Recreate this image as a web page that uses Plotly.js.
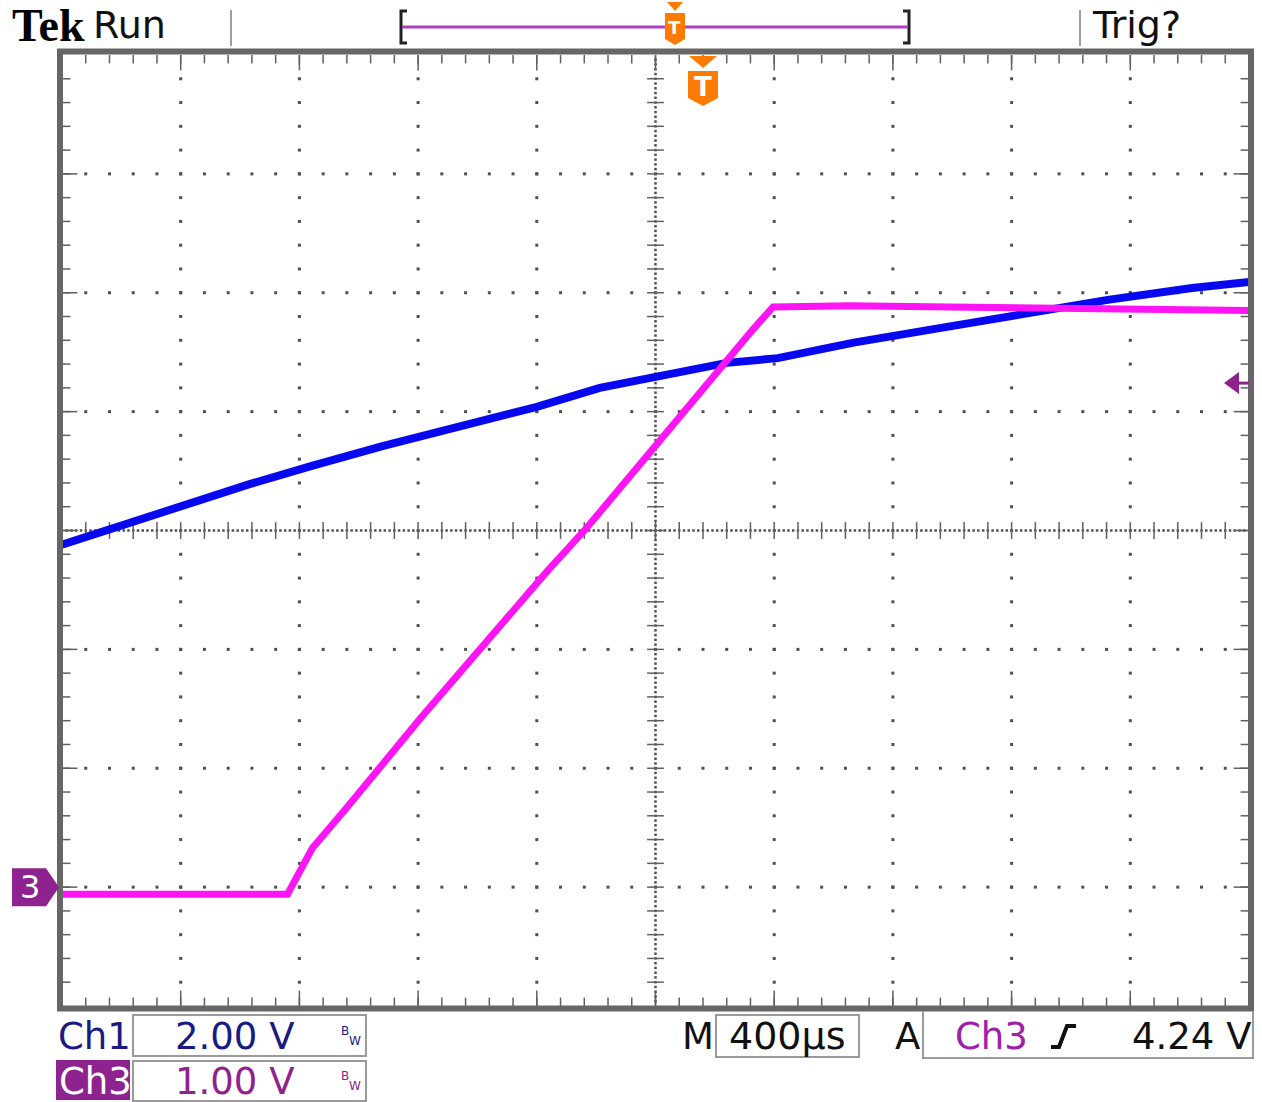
<!DOCTYPE html>
<html><head><meta charset="utf-8">
<script src="https://cdn.plot.ly/plotly-3.0.1.min.js"></script>
<style>body{margin:0;background:#fff}#chart{width:1262px;height:1102px}</style>
</head><body><div id="chart"></div>
<script>
// Horizontal: divisions (400 µs/div), vertical: divisions from screen centre
const ch1X = [0.00, 0.46, 1.02, 1.58, 2.09, 2.70, 3.41, 4.00, 4.53, 5.00, 5.60, 6.03, 6.67, 7.38, 8.10, 8.81, 9.52, 10.0];
const ch1Y = [-0.12, 0.03, 0.22, 0.39, 0.54, 0.71, 0.89, 1.04, 1.20, 1.29, 1.41, 1.45, 1.58, 1.70, 1.82, 1.94, 2.04, 2.09];
const ch3X = [0.00, 1.90, 2.11, 2.40, 3.02, 3.58, 4.09, 4.41, 5.01, 5.35, 5.57, 5.82, 5.99, 6.64, 7.48, 8.32, 9.17, 10.0];
const ch3Y = [-3.06, -3.06, -2.67, -2.33, -1.58, -0.93, -0.34, 0.01, 0.73, 1.13, 1.40, 1.69, 1.88, 1.89, 1.88, 1.87, 1.86, 1.85];
const ch3Ground = -3;          // divisions
const ch3VoltsPerDiv = 1.00;
const trigLevelV = 4.24;
const chanLabels = ['Ch1', 'Ch3'];
const chanScales = ['2.00 V', '1.00 V'];
const timebase = '400µs';
const trigSource = 'Ch3';
const trigText = '4.24 V';

const W = 1262, H = 1102, L = 62, R = 1249, T = 55, B = 1006;
const px = x => (x - L) / (R - L);
const py = y => (B - y) / (B - T);
const yDivToPaper = d => (d + 4) / 8;

const NAVY = '#1a1a85', PURP = '#8e228e', ORANGE = '#ff7a00', DOT = '#505050';

// grid (derived from axis divisions)
const gx = [], gy = [];
for (let k = 1; k < 10; k++) { if (k === 5) continue; for (let j = 1; j < 40; j++) { gx.push(k); gy.push(-4 + j * 0.2); } }
for (let k = -3; k <= 3; k++) { if (k === 0) continue; for (let j = 1; j < 50; j++) { gx.push(j * 0.2); gy.push(k); } }
const cx = [], cy = [];
for (let j = 1; j < 200; j++) { cx.push(5); cy.push(-4 + j * 0.04); }
for (let j = 1; j < 250; j++) { cx.push(j * 0.04); cy.push(0); }
const tewX = [], tewY = [], tnsX = [], tnsY = [];
for (let j = 1; j < 40; j++) { tewX.push(5, 0, 10); tewY.push(-4 + j * 0.2, -4 + j * 0.2, -4 + j * 0.2); }
for (let j = 1; j < 50; j++) { tnsX.push(j * 0.2, j * 0.2, j * 0.2); tnsY.push(0, 4, -4); }
const mewX = [], mewY = [], mnsX = [], mnsY = [];
for (let k = -3; k <= 3; k++) { mewX.push(0, 10); mewY.push(k, k); }
for (let k = 1; k < 10; k++) { mnsX.push(k, k); mnsY.push(4, -4); }

const data = [
  {x: gx, y: gy, mode: 'markers', marker: {symbol: 'square', size: 3, color: DOT}, hoverinfo: 'skip'},
  {x: cx, y: cy, mode: 'markers', marker: {symbol: 'square', size: 2.5, color: DOT}, hoverinfo: 'skip'},
  {x: tewX, y: tewY, mode: 'markers', marker: {symbol: 'line-ew', size: 12, line: {width: 1.5, color: '#606060'}}, hoverinfo: 'skip'},
  {x: tnsX, y: tnsY, mode: 'markers', marker: {symbol: 'line-ns', size: 12, line: {width: 1.5, color: '#606060'}}, hoverinfo: 'skip'},
  {x: mewX, y: mewY, mode: 'markers', marker: {symbol: 'line-ew', size: 22, line: {width: 1.5, color: '#606060'}}, hoverinfo: 'skip'},
  {x: mnsX, y: mnsY, mode: 'markers', marker: {symbol: 'line-ns', size: 22, line: {width: 1.5, color: '#606060'}}, hoverinfo: 'skip'},
  {x: ch1X, y: ch1Y, mode: 'lines', line: {color: '#0808f0', width: 8}, name: chanLabels[0]},
  {x: ch3X, y: ch3Y, mode: 'lines', line: {color: '#ff14f5', width: 7}, name: chanLabels[1]}
];

const pathC = pts => 'M' + pts.map(p => px(p[0]).toFixed(5) + ',' + py(p[1]).toFixed(5)).join(' L') + ' Z';
const pathO = pts => 'M' + pts.map(p => px(p[0]).toFixed(5) + ',' + py(p[1]).toFixed(5)).join(' L');
const P = (pts, fill) => ({type: 'path', xref: 'paper', yref: 'paper', path: pathC(pts), fillcolor: fill, line: {width: 0}});
const Ln = (pts, color, w) => ({type: 'path', xref: 'paper', yref: 'paper', path: pathO(pts), line: {color: color, width: w}});
const Box = (x0, y0, x1, y1, col) => ({type: 'rect', xref: 'paper', yref: 'paper', x0: px(x0), x1: px(x1), y0: py(y1), y1: py(y0), line: {color: col || '#9a9a9a', width: 2}});

const trigDiv = ch3Ground + trigLevelV / ch3VoltsPerDiv;
const tY = yDivToPaper(trigDiv);
const gY = yDivToPaper(ch3Ground);
const ph = v => v / (B - T);

const shapes = [
  {type: 'rect', xref: 'paper', yref: 'paper', x0: px(60), x1: px(1251), y0: py(1008.5), y1: py(51.5), line: {color: '#666', width: 6}},
  Ln([[231, 10], [231, 46]], '#a0a0a0', 2),
  Ln([[1080, 10], [1080, 46]], '#a0a0a0', 2),
  Ln([[407, 11], [401, 11], [401, 43], [407, 43]], '#222', 3),
  Ln([[903, 11], [909, 11], [909, 43], [903, 43]], '#222', 3),
  Ln([[402, 27], [908, 27]], '#b040c0', 3),
  P([[667, 2], [683, 2], [675, 11]], ORANGE),
  P([[665, 13], [685, 13], [685, 39], [675, 45], [665, 39]], ORANGE),
  P([[689, 56], [717, 56], [703, 68]], ORANGE),
  P([[688, 71], [718, 71], [718, 98], [703, 106], [688, 98]], ORANGE),
  // trigger level arrow
  {type: 'path', xref: 'paper', yref: 'paper', fillcolor: PURP, line: {width: 0},
   path: 'M' + px(1224) + ',' + tY + ' L' + px(1239) + ',' + (tY + ph(11)) + ' L' + px(1239) + ',' + (tY - ph(11)) + ' Z'},
  {type: 'line', xref: 'paper', yref: 'paper', x0: px(1237), x1: px(1249), y0: tY, y1: tY, line: {color: PURP, width: 3}},
  // ch3 ground marker
  {type: 'path', xref: 'paper', yref: 'paper', fillcolor: PURP, line: {width: 0},
   path: 'M' + px(12) + ',' + (gY + ph(19)) + ' L' + px(46) + ',' + (gY + ph(19)) + ' L' + px(59) + ',' + gY +
         ' L' + px(46) + ',' + (gY - ph(19)) + ' L' + px(12) + ',' + (gY - ph(19)) + ' Z'},
  // readout boxes
  Box(133, 1015, 366, 1056),
  Box(133, 1061, 366, 1101),
  P([[56, 1060], [130, 1060], [130, 1100], [56, 1100]], PURP),
  Box(716, 1015, 859, 1057),
  Ln([[923, 1011], [923, 1058], [1253, 1058], [1253, 1011]], '#9a9a9a', 2),
  Ln([[1051, 1047], [1059, 1047], [1067, 1026], [1076, 1026]], '#111', 4)
];

const F = 'DejaVu Sans';
const A = (text, x, y, size, color, anchor, fam) => ({text: text, xref: 'paper', yref: 'paper', x: px(x), y: py(y),
  xanchor: anchor || 'left', yanchor: 'middle', showarrow: false, font: {family: fam || F, size: size, color: color}});

const annotations = [
  A('<b>Tek</b>', 10, 26, 46, '#000', 'left', 'Liberation Serif'),
  A('Run', 91, 25, 38, '#111'),
  A('Trig?', 1090, 25, 38, '#111'),
  A(chanLabels[0], 56, 1036, 37, NAVY),
  A(chanScales[0], 173, 1036, 37, NAVY),
  A('B', 339, 1031, 12, NAVY),
  A('W', 347, 1041, 12, NAVY),
  A(chanLabels[1], 57, 1081, 37, '#fff'),
  A(chanScales[1], 173, 1081, 37, PURP),
  A('B', 339, 1076, 12, PURP),
  A('W', 347, 1086, 12, PURP),
  A('M', 680, 1036, 37, '#111'),
  A(timebase, 727, 1036, 38, '#111'),
  A('A', 893, 1036, 37, '#111'),
  A(trigSource, 953, 1036, 37, '#a020a8'),
  A(trigText, 1130, 1036, 37, '#111'),
  A('<b>T</b>', 703, 87, 26, '#fff', 'center'),
  A('<b>T</b>', 675, 28, 18, '#fff', 'center'),
  {text: '3', xref: 'paper', yref: 'paper', x: px(30), y: gY, xanchor: 'center', yanchor: 'middle', showarrow: false,
   font: {family: F, size: 32, color: '#fff'}}
];

const layout = {
  width: W, height: H,
  margin: {l: L, r: W - R, t: T, b: H - B, pad: 0},
  paper_bgcolor: '#fff', plot_bgcolor: '#fff',
  showlegend: false,
  xaxis: {range: [0, 10], visible: false, fixedrange: true},
  yaxis: {range: [-4, 4], visible: false, fixedrange: true},
  shapes: shapes, annotations: annotations
};
Plotly.newPlot('chart', data, layout, {displayModeBar: false, staticPlot: true});
</script></body></html>
